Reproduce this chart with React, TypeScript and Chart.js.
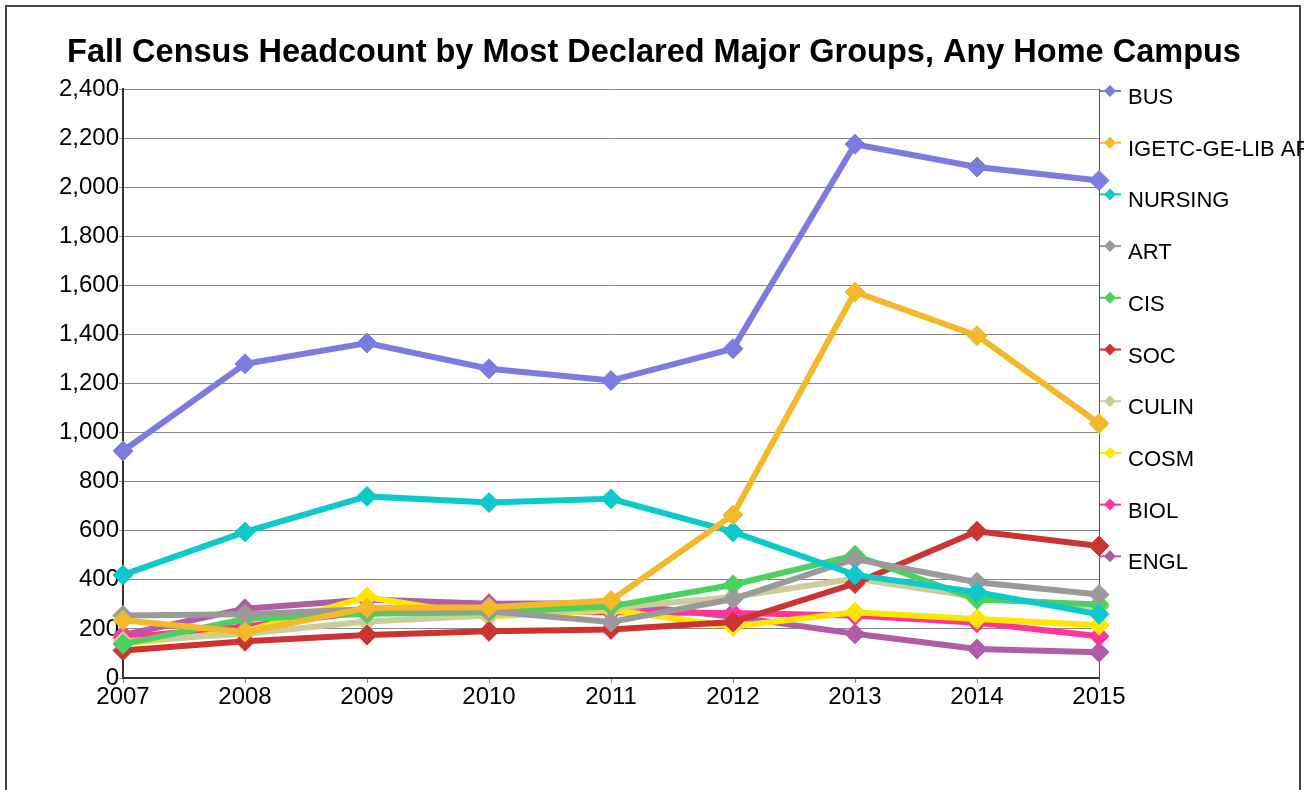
import React, { useEffect, useRef } from 'react';
import { Chart, registerables } from 'chart.js';
Chart.register(...registerables);

const years = ['2007', '2008', '2009', '2010', '2011', '2012', '2013', '2014', '2015'];

const BUS = [925, 1280, 1365, 1260, 1212, 1342, 2175, 2082, 2027];
const IGETC = [235, 187, 285, 288, 316, 664, 1573, 1395, 1037];
const NURSING = [420, 595, 740, 715, 730, 595, 420, 350, 260];
const ART = [255, 260, 280, 272, 228, 322, 485, 390, 340];
const CIS = [138, 240, 262, 268, 292, 380, 500, 320, 300];
const SOC = [112, 150, 175, 190, 198, 228, 385, 598, 538];
const CULIN = [150, 180, 230, 255, 285, 330, 405, 330, 290];
const COSM = [140, 190, 330, 250, 277, 210, 268, 240, 215];
const BIOL = [165, 210, 270, 280, 268, 265, 255, 225, 170];
const ENGL = [175, 282, 320, 303, 305, 250, 180, 118, 105];

const seriesNames = ['BUS', 'IGETC-GE-LIB ARTS', 'NURSING', 'ART', 'CIS', 'SOC', 'CULIN', 'COSM', 'BIOL', 'ENGL'];
const seriesData = [BUS, IGETC, NURSING, ART, CIS, SOC, CULIN, COSM, BIOL, ENGL];
const seriesColors = ['#7b7be0', '#f4b92a', '#0ccaca', '#9a9a9a', '#4cd060', '#cc3333', '#cccc9c', '#ffe600', '#ff3399', '#b05ca8'];

const titleText = 'Fall Census Headcount by Most Declared Major Groups, Any Home Campus';
const FONT = '"Liberation Sans", Arial, sans-serif';

export default function App() {
  const ref = useRef<HTMLCanvasElement>(null);
  useEffect(() => {
    if (!ref.current) return;
    const datasets = seriesData.map((d, i) => ({
      label: seriesNames[i],
      data: d,
      borderColor: seriesColors[i],
      backgroundColor: seriesColors[i],
      pointBackgroundColor: seriesColors[i],
      pointBorderColor: seriesColors[i],
      borderWidth: 6,
      pointStyle: 'rectRot' as const,
      pointRadius: 10,
      pointBorderWidth: 1,
      tension: 0,
    }));
    const customPlugin = {
      id: 'custom',
      beforeDatasetsDraw(chart: any) {
        const { ctx, chartArea } = chart;
        ctx.save();
        ctx.strokeStyle = '#555';
        ctx.lineWidth = 1;
        ctx.beginPath();
        ctx.moveTo(chartArea.right + 0.5, chartArea.top);
        ctx.lineTo(chartArea.right + 0.5, chartArea.bottom);
        ctx.stroke();
        ctx.restore();
      },
      afterDraw(chart: any) {
        const { ctx } = chart;
        ctx.save();
        ctx.fillStyle = '#000';
        ctx.font = `bold 32.5px ${FONT}`;
        ctx.textAlign = 'center';
        ctx.textBaseline = 'alphabetic';
        ctx.fillText(titleText, 654, 62);
        ctx.font = `22px ${FONT}`;
        ctx.textAlign = 'left';
        ctx.textBaseline = 'middle';
        seriesNames.forEach((name, i) => {
          const y = 97 + i * 51.7;
          const c = seriesColors[i];
          ctx.strokeStyle = c;
          ctx.lineWidth = 2;
          ctx.beginPath();
          ctx.moveTo(1100, y - 6);
          ctx.lineTo(1121, y - 6);
          ctx.stroke();
          ctx.fillStyle = c;
          ctx.beginPath();
          ctx.moveTo(1110, y - 12);
          ctx.lineTo(1116, y - 6);
          ctx.lineTo(1110, y);
          ctx.lineTo(1104, y - 6);
          ctx.closePath();
          ctx.fill();
          ctx.fillStyle = '#000';
          ctx.fillText(name, 1128, y + 1);
        });
        ctx.restore();
      },
    };
    const chart = new Chart(ref.current, {
      type: 'line',
      data: { labels: years, datasets },
      options: {
        animation: false,
        responsive: false,
        layout: { padding: { top: 89, right: 205, bottom: 82, left: 0 } },
        plugins: { legend: { display: false }, title: { display: false }, tooltip: { enabled: false } },
        scales: {
          x: {
            grid: { drawOnChartArea: false, tickLength: 5, color: '#888' },
            border: { color: '#333', width: 2 },
            ticks: { font: { family: FONT, size: 24 }, color: '#000', padding: 0, maxRotation: 0, autoSkip: false },
            afterFit: (s: any) => { s.height = 30; },
          },
          y: {
            min: 0,
            max: 2400,
            ticks: {
              stepSize: 200,
              font: { family: FONT, size: 24 },
              color: '#000',
              padding: 0,
              callback: (v: any) => Number(v).toLocaleString('en-US'),
            },
            grid: { color: '#888', tickLength: 4 },
            border: { color: '#333', width: 2 },
            afterFit: (s: any) => { s.width = 123; },
          },
        },
      },
      plugins: [customPlugin],
    });
    return () => chart.destroy();
  }, []);
  return (
    <div style={{ position: 'absolute', left: 0, top: 0, width: 1304, height: 790, overflow: 'hidden', background: '#fff' }}>
      <div style={{ position: 'absolute', left: 5, top: 5, width: 1292, height: 800, border: '2px solid #444' }} />
      <canvas ref={ref} width={1304} height={790} style={{ position: 'absolute', left: 0, top: 0 }} />
    </div>
  );
}
